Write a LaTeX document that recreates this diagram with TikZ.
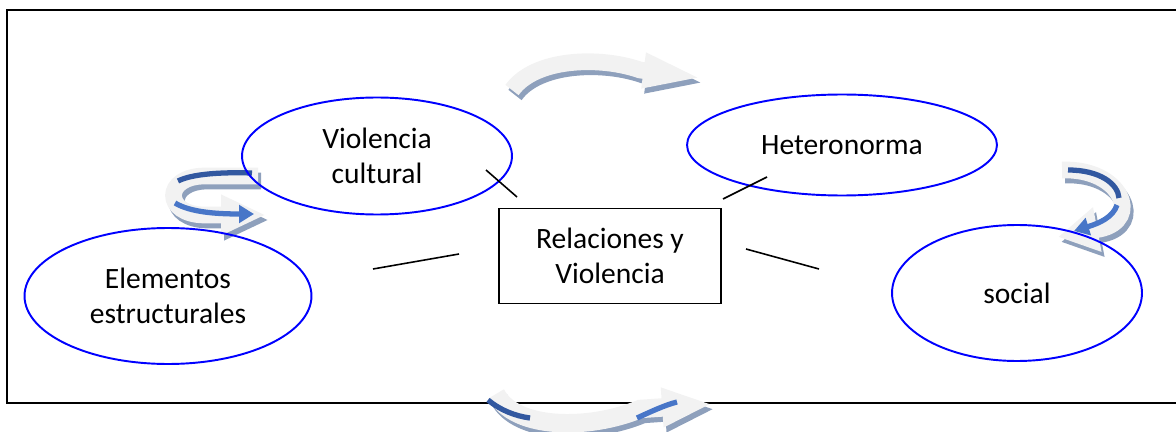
\documentclass[tikz,border=0pt]{standalone}
\usepackage{fontspec}
\setmainfont{Carlito}
\usetikzlibrary{shapes.geometric, arrows.meta, positioning}

\definecolor{bandfill}{RGB}{242,242,242}
\definecolor{bandshadow}{RGB}{142,160,188}
\definecolor{banddark}{RGB}{50,88,160}
\definecolor{bandlight}{RGB}{72,118,200}

\begin{document}
\begin{tikzpicture}[
    x=0.02cm, y=-0.02cm,
    every node/.style={font=\fontsize{16.8}{20}\selectfont},
    category/.style={ellipse, draw=blue, line width=1.1pt, inner sep=0pt, align=center},
    core/.style={rectangle, draw, line width=0.9pt, minimum width=4.44cm, minimum height=1.9cm, align=center},
    link/.style={line width=0.9pt},
    frame/.style={line width=1.4pt},
    band/.style={line width=9.5pt, bandfill},
    bandshade/.style={line width=9.5pt, bandshadow, shift={(3,5)}},
    stripe/.style={line width=3pt, banddark}
]

\useasboundingbox (0,0) rectangle (1176,432);

% Outer frame (open on the right)
\draw[frame] (1176,10) -- (7,10) -- (7,403) -- (1176,403);

% Top arrow
\draw[bandshade, -{Triangle[length=1.3cm, width=0.6cm]}] (512,90) .. controls (535,58) and (600,56) .. (640,70) -- (708,79);
\draw[band, -{Triangle[length=1.3cm, width=0.6cm]}] (512,90) .. controls (535,58) and (600,56) .. (640,70) -- (708,79);

% Left arrow
\draw[bandshade, -{Triangle[length=0.9cm, width=0.75cm]}] (258,176) -- (205,176) .. controls (163,176) and (163,215) .. (205,215) -- (266,215);
\draw[band, -{Triangle[length=0.9cm, width=0.75cm]}] (258,176) -- (205,176) .. controls (163,176) and (163,215) .. (205,215) -- (266,215);
\draw[stripe] (252,173) .. controls (220,172) and (192,174) .. (178,181);
\draw[stripe, bandlight, -{Triangle[length=0.3cm, width=0.35cm]}] (175,203) .. controls (190,212) and (215,214) .. (254,214);

% Right arrow
\draw[bandshade, -{Triangle[length=0.8cm, width=0.85cm]}] (1062,170) .. controls (1122,168) and (1142,220) .. (1100,229) -- (1058,237);
\draw[band, -{Triangle[length=0.8cm, width=0.85cm]}] (1062,170) .. controls (1122,168) and (1142,220) .. (1100,229) -- (1058,237);
\draw[stripe] (1068,170) .. controls (1100,170) and (1118,184) .. (1119,198);
\draw[stripe, bandlight, -{Triangle[length=0.3cm, width=0.35cm]}] (1117,205) .. controls (1113,217) and (1100,223) .. (1074,231);

% Bottom arrow
\draw[bandshade, line width=10.5pt, -{Triangle[length=1cm, width=0.72cm]}] (496,394) .. controls (515,430) and (590,430) .. (640,409) -- (712,404);
\draw[band, line width=10.5pt, -{Triangle[length=1cm, width=0.72cm]}] (496,394) .. controls (515,430) and (590,430) .. (640,409) -- (712,404);
\draw[stripe] (488,400) .. controls (500,410) and (515,416) .. (530,418);
\draw[stripe, bandlight] (637,418) .. controls (650,412) and (665,405) .. (677,402);

% Categories
\node[category, minimum width=5.4cm, minimum height=2.34cm] (cultural) at (377,156) {Violencia\\cultural};
\node[category, minimum width=6.2cm, minimum height=2.02cm] (hetero) at (842,145) {Heteronorma};
\node[category, minimum width=5.74cm, minimum height=2.72cm] (estruct) at (168,296) {Elementos\\estructurales};
\node[category, minimum width=5cm, minimum height=2.72cm] (social) at (1017,293) {social};

% Centre box
\node[core] (rel) at (610,256) {Relaciones y\\Violencia};

% Short links round the box
\coordinate (cul-a) at (486,170); \coordinate (cul-b) at (517,197);
\coordinate (het-a) at (723,199); \coordinate (het-b) at (767,177);
\coordinate (est-a) at (373,269); \coordinate (est-b) at (459,254);
\coordinate (soc-a) at (746,249); \coordinate (soc-b) at (819,269);
\draw[link] (cul-a) -- (cul-b);
\draw[link] (het-a) -- (het-b);
\draw[link] (est-a) -- (est-b);
\draw[link] (soc-a) -- (soc-b);

\end{tikzpicture}
\end{document}
